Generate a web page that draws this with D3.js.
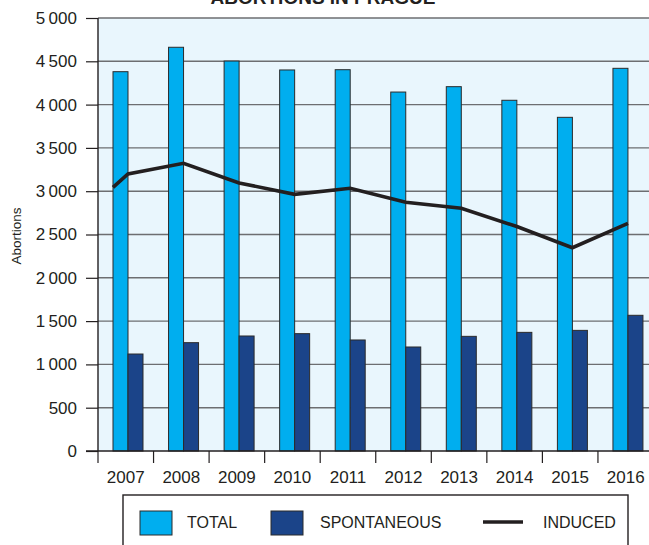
<!DOCTYPE html>
<html>
<head>
<meta charset="utf-8">
<script src="https://cdn.jsdelivr.net/npm/d3@7"></script>
<style>
  html, body { margin: 0; padding: 0; background: #fff; }
  svg { display: block; }
  text { font-family: "Liberation Sans", Arial, Helvetica, sans-serif; fill: #231f20; }
</style>
</head>
<body>
<script>
const years = ["2007","2008","2009","2010","2011","2012","2013","2014","2015","2016"];
const totalValues = [4380, 4662, 4503, 4400, 4403, 4145, 4207, 4050, 3853, 4419];
const spontaneousValues = [1120, 1251, 1328, 1355, 1282, 1201, 1324, 1370, 1393, 1567];
const inducedValues = [3199, 3322, 3095, 2964, 3034, 2872, 2803, 2592, 2347, 2629];
const inducedStartValue = 3045;
const yTicks = [0, 500, 1000, 1500, 2000, 2500, 3000, 3500, 4000, 4500, 5000];
const seriesNames = ["TOTAL", "SPONTANEOUS", "INDUCED"];
const titleText = "ABORTIONS IN PRAGUE";
const yAxisTitle = "Abortions";

const W = 649, H = 545;
const m = { left: 98, top: 18, bottom: 94 };
const plotRight = 653.5;

const svg = d3.select("body").append("svg").attr("width", W).attr("height", H);

const x = d3.scaleBand().domain(years).range([m.left, plotRight]).paddingInner(0).paddingOuter(0);
const bw = x.bandwidth();
const sub = d3.scaleBand().domain(["TOTAL","SPONTANEOUS"]).range([bw * 0.27, bw * 0.81]);
const y = d3.scaleLinear().domain([0, 5000]).range([H - m.bottom, m.top]);

const colors = { TOTAL: "#00aeef", SPONTANEOUS: "#1b4489", INDUCED: "#231f20" };

// title (cut off at top)
svg.append("text").attr("x", 323).attr("y", 4).attr("text-anchor", "middle")
  .style("font-weight", "bold").style("font-size", "19px").text(titleText);

// plot background
svg.append("rect").attr("x", m.left).attr("y", y(5000)).attr("width", plotRight - m.left)
  .attr("height", y(0) - y(5000)).attr("fill", "#e9f6fd");

// gridlines
svg.append("g").selectAll("line").data(yTicks.filter(d => d > 0)).join("line")
  .attr("x1", m.left).attr("x2", plotRight)
  .attr("y1", d => y(d)).attr("y2", d => y(d))
  .attr("stroke", "#6d6e71").attr("stroke-width", 1.4);

// bars
const g = svg.append("g");
years.forEach((yr, i) => {
  g.append("rect").attr("x", x(yr) + sub("TOTAL")).attr("y", y(totalValues[i]))
    .attr("width", sub.bandwidth()).attr("height", y(0) - y(totalValues[i]))
    .attr("fill", colors.TOTAL).attr("stroke", "#2b2b2b").attr("stroke-width", 1);
  g.append("rect").attr("x", x(yr) + sub("SPONTANEOUS")).attr("y", y(spontaneousValues[i]))
    .attr("width", sub.bandwidth()).attr("height", y(0) - y(spontaneousValues[i]))
    .attr("fill", colors.SPONTANEOUS).attr("stroke", "#2b2b2b").attr("stroke-width", 1);
});

// induced line
const linePts = [[x(years[0]) + sub("TOTAL"), y(inducedStartValue)]]
  .concat(years.map((yr, i) => [x(yr) + sub("SPONTANEOUS"), y(inducedValues[i])]));
svg.append("path").attr("d", d3.line()(linePts)).attr("fill", "none")
  .attr("stroke", colors.INDUCED).attr("stroke-width", 3.6).attr("stroke-linejoin", "miter");

// y axis
const yAxis = d3.axisLeft(y).tickValues(yTicks).tickSize(12).tickPadding(9)
  .tickFormat(d => d >= 1000 ? d3.format(",")(d).replace(",", "\u2009") : String(d));
const ya = svg.append("g").attr("transform", `translate(${m.left},0)`).call(yAxis);
ya.select(".domain").attr("stroke", "#231f20").attr("stroke-width", 1.4).attr("d", `M0,${y(5000)}V${y(0)}`);
ya.selectAll(".tick line").attr("stroke", "#231f20").attr("stroke-width", 1.2);
ya.selectAll(".tick text").style("font-size", "17px").attr("fill", "#231f20")
  .style("font-family", '"Liberation Sans", Arial, sans-serif');

// x axis: ticks at band boundaries
const xa = svg.append("g");
xa.append("line").attr("x1", m.left - 12).attr("x2", plotRight).attr("y1", y(0)).attr("y2", y(0))
  .attr("stroke", "#231f20").attr("stroke-width", 1.4);
xa.selectAll("line.b").data(years).join("line").attr("class", "b")
  .attr("x1", d => x(d)).attr("x2", d => x(d)).attr("y1", y(0)).attr("y2", y(0) + 12)
  .attr("stroke", "#231f20").attr("stroke-width", 1.2);
xa.selectAll("text").data(years).join("text")
  .attr("x", d => x(d) + bw / 2).attr("y", y(0) + 32).attr("text-anchor", "middle")
  .style("font-size", "17px").text(d => d);

// y title
svg.append("text").attr("transform", `translate(21,236) rotate(-90)`).attr("text-anchor", "middle")
  .style("font-size", "13.5px").text(yAxisTitle);

// legend
const lg = svg.append("g");
lg.append("rect").attr("x", 123).attr("y", 495).attr("width", 505).attr("height", 60)
  .attr("fill", "#fff").attr("stroke", "#231f20").attr("stroke-width", 1.4);
const legendItems = [
  { name: seriesNames[0], type: "rect", x: 140, tx: 187 },
  { name: seriesNames[1], type: "rect", x: 271, tx: 320 },
  { name: seriesNames[2], type: "line", x: 483, tx: 543 }
];
legendItems.forEach(it => {
  if (it.type === "rect") {
    lg.append("rect").attr("x", it.x).attr("y", 511).attr("width", 32).attr("height", 24)
      .attr("fill", colors[it.name]).attr("stroke", "#2b2b2b").attr("stroke-width", 1);
  } else {
    lg.append("line").attr("x1", it.x).attr("x2", it.x + 40).attr("y1", 522).attr("y2", 522)
      .attr("stroke", colors.INDUCED).attr("stroke-width", 3.6);
  }
  lg.append("text").attr("x", it.tx).attr("y", 528).style("font-size", "16px").text(it.name);
});
</script>
</body>
</html>
